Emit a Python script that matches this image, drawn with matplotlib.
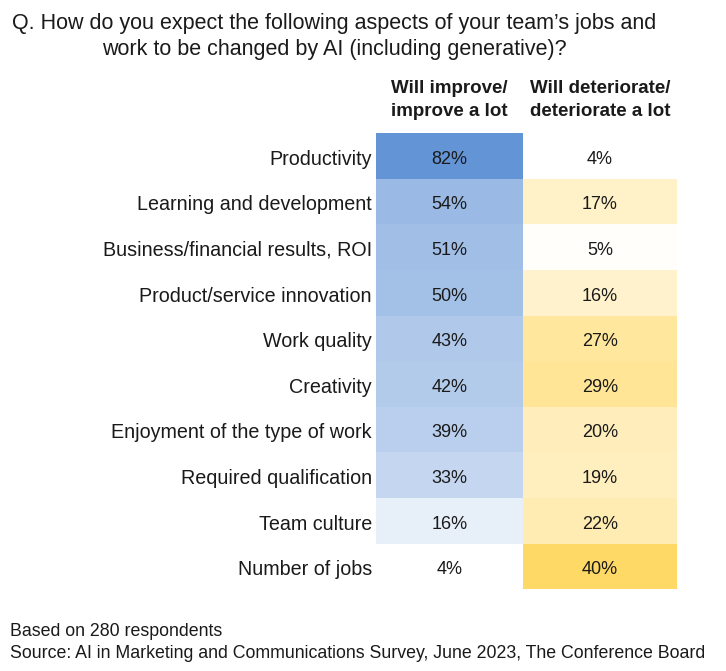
import matplotlib
matplotlib.use("Agg")
import matplotlib.pyplot as plt
import numpy as np
from matplotlib.colors import LinearSegmentedColormap, Normalize

categories = ["Productivity", "Learning and development", "Business/financial results, ROI",
              "Product/service innovation", "Work quality", "Creativity",
              "Enjoyment of the type of work", "Required qualification", "Team culture",
              "Number of jobs"]
improve = [82, 54, 51, 50, 43, 42, 39, 33, 16, 4]
deteriorate = [4, 17, 5, 16, 27, 29, 20, 19, 22, 40]
col_headers = ["Will improve/\nimprove a lot", "Will deteriorate/\ndeteriorate a lot"]
title = "Q. How do you expect the following aspects of your team\u2019s jobs and\nwork to be changed by AI (including generative)?"
note1 = "Based on 280 respondents"
note2 = "Source: AI in Marketing and Communications Survey, June 2023, The Conference Board"

plt.rcParams['font.family'] = ['Liberation Sans', 'DejaVu Sans']
W, H = 726, 671
fig = plt.figure(figsize=(W / 100, H / 100), dpi=100)

# table region in pixels
x0, xm, x1 = 375.7, 523.3, 676.7
y_top, y_bot = 133.3, 589.3
ax = fig.add_axes([x0 / W, 1 - y_bot / H, (x1 - x0) / W, (y_bot - y_top) / H])
ax.set_xlim(x0, x1)
n = len(categories)
ax.set_ylim(n, 0)
ax.axis("off")

blue_cmap = LinearSegmentedColormap.from_list("b", ["#FFFFFF", "#6294D6"])
yel_cmap = LinearSegmentedColormap.from_list("y", ["#FFFFFF", "#FFD966"])
bnorm = Normalize(min(improve), max(improve))
ynorm = Normalize(min(deteriorate), max(deteriorate))

txt = "#1a1a1a"
dy = 0.07  # small downward shift of text within rows
row_h = (y_bot - y_top) / n
for i, (a, b) in enumerate(zip(improve, deteriorate)):
    ax.barh(i + 0.5, xm - x0, left=x0, height=1.0, color=blue_cmap(bnorm(a)), linewidth=0)
    ax.barh(i + 0.5, x1 - xm, left=xm, height=1.0, color=yel_cmap(ynorm(b)), linewidth=0)
    ax.text((x0 + xm) / 2, i + 0.5 + dy, f"{a}%", ha="center", va="center", fontsize=13, color=txt)
    ax.text((xm + x1) / 2, i + 0.5 + dy, f"{b}%", ha="center", va="center", fontsize=13, color=txt)
    fig.text(372 / W, 1 - (y_top + (i + 0.5 + dy) * row_h) / H, categories[i],
             ha="right", va="center", fontsize=14.2, color=txt)

fig.text(449 / W, 1 - 100 / H, col_headers[0], ha="center", va="center", fontsize=13.5,
         fontweight="bold", color=txt, linespacing=1.5)
fig.text(600 / W, 1 - 100 / H, col_headers[1], ha="center", va="center", fontsize=13.5,
         fontweight="bold", color=txt, linespacing=1.5)

fig.text(334 / W, 1 - 36.5 / H, title, ha="center", va="center", fontsize=15.5, color=txt,
         linespacing=1.33)
fig.text(10 / W, 1 - 631 / H, note1, ha="left", va="center", fontsize=12.8, color=txt)
fig.text(10 / W, 1 - 653 / H, note2, ha="left", va="center", fontsize=12.8, color=txt)

fig.savefig("out.png", dpi=100)
